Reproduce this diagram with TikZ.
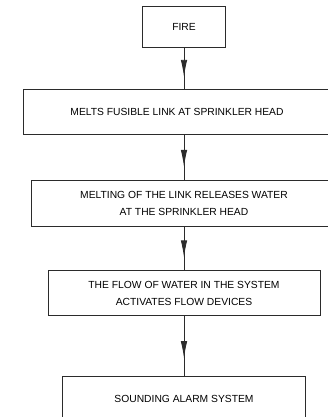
\documentclass[tikz,border=0pt]{standalone}
\usepackage{fontspec}
\setmainfont{Liberation Sans}
\definecolor{flowLine}{HTML}{2B2B2B}
\usetikzlibrary{positioning,arrows.meta,decorations.markings}

\begin{document}
\begin{tikzpicture}[x=1pt, y=-1pt,
        box/.style={draw=flowLine, line width=0.9pt, fill=white,
                    minimum height=45pt, inner sep=0pt,
                    font=\fontsize{10.3}{17}\selectfont, align=center},
        arrow/.style={draw=flowLine, line width=0.9pt,
                      postaction={decorate},
                      decoration={markings, mark=at position 0.7 with
                        {\arrow{Latex[length=17pt, width=6.5pt]}}}},
      ]
        \useasboundingbox (0,0) rectangle (328,417);
        \clip (0,0) rectangle (328,417);
        % Causa iniziale
        \node[box, minimum width=83pt, minimum height=41pt] (fire) at (184,26.5)
          {FIRE};
        % Passi della catena
        \node[box, minimum width=308pt, below=42pt of fire, xshift=-7pt] (melts)
          {MELTS FUSIBLE LINK AT SPRINKLER HEAD};
        \node[box, minimum width=306pt, minimum height=46pt, below=45pt of fire |- melts.south] (release)
          {MELTING OF THE LINK RELEASES WATER\\AT THE SPRINKLER HEAD};
        \node[box, minimum width=272pt, below=43pt of release] (flow)
          {THE FLOW OF WATER IN THE SYSTEM\\ACTIVATES FLOW DEVICES};
        % Allarme: il bordo inferiore esce dal taglio
        \node[box, minimum width=243pt, minimum height=44pt, below=60pt of flow] (alarm)
          {SOUNDING ALARM SYSTEM};
        % Frecce con la punta a metà linea
        \draw[arrow] (fire.south) -- (fire.south |- melts.north);
        \draw[arrow] (fire.south |- melts.south) -- (release.north);
        \draw[arrow] (release.south) -- (flow.north);
        \draw[arrow] (flow.south) -- (alarm.north);
      \end{tikzpicture}
\end{document}
